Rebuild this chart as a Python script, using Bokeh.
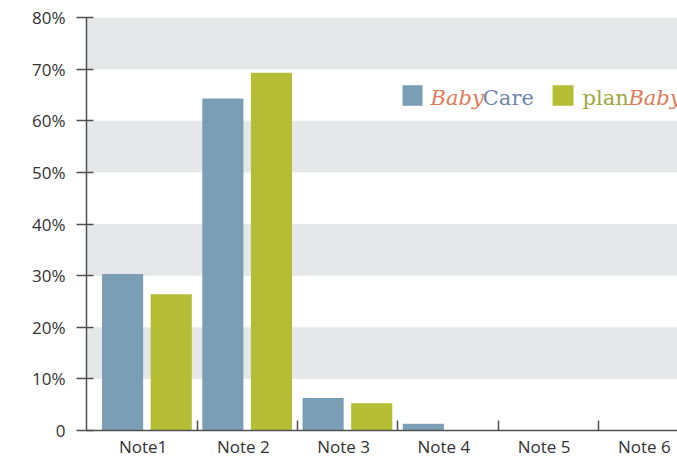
from bokeh.plotting import figure
from bokeh.models import Range1d, FixedTicker, BoxAnnotation, Label, ColumnDataSource
from bokeh.embed import file_html
from bokeh.resources import INLINE

# ---- data ----
categories = ["Note1", "Note 2", "Note 3", "Note 4", "Note 5", "Note 6"]
babycare = [30.3, 64.3, 6.3, 1.3, 0.0, 0.0]
planbaby = [26.4, 69.3, 5.3, 0.0, 0.0, 0.0]
y_ticks = [0, 10, 20, 30, 40, 50, 60, 70, 80]
y_tick_labels = ["0", "10%", "20%", "30%", "40%", "50%", "60%", "70%", "80%"]

BLUE = "#7a9eb6"
GREEN = "#b5bd34"
BAND = "#e6e7e9"
AXIS = "#505050"
TEXT = "#333333"

idx = list(range(len(categories)))
src = ColumnDataSource(dict(
    xb=[i + 0.255 for i in idx],
    xg=[i + 0.74 for i in idx],
    babycare=babycare,
    planbaby=planbaby,
))

p = figure(width=677, height=460,
           x_range=Range1d(-0.105, 5.79), y_range=Range1d(0, 80),
           output_backend="svg", toolbar_location=None,
           min_border_left=86, min_border_right=0,
           min_border_top=17, min_border_bottom=28)
p.outline_line_color = None
p.background_fill_color = "white"
p.border_fill_color = "white"

p.vbar(x="xb", top="babycare", width=0.41, source=src, fill_color=BLUE, line_color=None)
p.vbar(x="xg", top="planbaby", width=0.41, source=src, fill_color=GREEN, line_color=None)

# grid bands
p.xgrid.visible = False
p.ygrid.ticker = FixedTicker(ticks=y_ticks[1:])
p.ygrid.grid_line_color = None
p.ygrid.band_fill_color = BAND
p.ygrid.band_fill_alpha = 1.0

# y axis
ya = p.yaxis[0]
ya.ticker = FixedTicker(ticks=y_ticks)
ya.major_label_overrides = {t: l for t, l in zip(y_ticks, y_tick_labels)}
ya.minor_tick_line_color = None
ya.major_tick_out = 10
ya.major_tick_in = 7
ya.major_tick_line_color = AXIS
ya.major_tick_line_width = 1.5
ya.axis_line_color = AXIS
ya.axis_line_width = 1.5
ya.major_label_standoff = 11
ya.major_label_text_font = "Open Sans"
ya.major_label_text_font_size = "17px"
ya.major_label_text_color = TEXT

# x axis: labels at category centres, short upward ticks between categories
label_pos = [i + 0.46 for i in idx]
xa = p.xaxis[0]
xa.ticker = FixedTicker(ticks=label_pos, minor_ticks=[i for i in idx[1:]])
xa.major_label_overrides = {pos: c for pos, c in zip(label_pos, categories)}
xa.major_tick_in = 0
xa.major_tick_out = 0
xa.minor_tick_in = 10
xa.minor_tick_out = 0
xa.minor_tick_line_color = AXIS
xa.minor_tick_line_width = 1.5
xa.axis_line_color = AXIS
xa.axis_line_width = 1.5
xa.major_label_standoff = 4
xa.major_label_text_font = "Open Sans"
xa.major_label_text_font_size = "17px"
xa.major_label_text_color = TEXT

# legend
LEG_Y = 64.4
p.add_layout(BoxAnnotation(left=3.047, right=3.247, bottom=62.9, top=66.9,
                           fill_color=BLUE, fill_alpha=1, line_color=None))
p.add_layout(BoxAnnotation(left=4.544, right=4.753, bottom=62.9, top=66.9,
                           fill_color=GREEN, fill_alpha=1, line_color=None))
leg_font = "DejaVu Serif"
leg_size = "21px"
for x, txt, col, style in [(3.327, "Baby", "#e07a58", "italic"),
                           (3.848, "Care", "#6f86b0", "normal"),
                           (4.843, "plan", "#9ea83c", "normal"),
                           (5.30, "Baby", "#e07a58", "italic")]:
    p.add_layout(Label(x=x, y=LEG_Y, text=txt, text_color=col, text_font=leg_font,
                       text_font_size=leg_size, text_font_style=style,
                       text_baseline="alphabetic", text_align="left"))

open("out.html", "w").write(file_html(p, INLINE))
